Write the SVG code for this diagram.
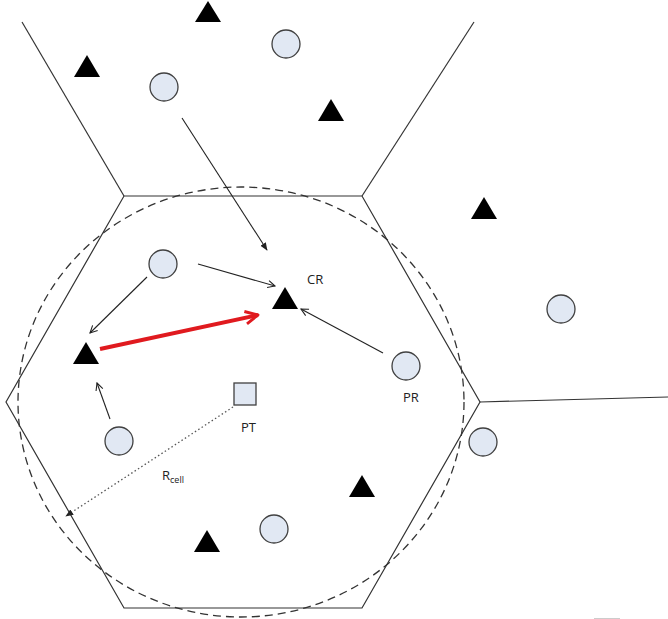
<svg xmlns="http://www.w3.org/2000/svg" width="668" height="619" viewBox="0 0 668 619">
<style>
.edge{fill:none;stroke:#333;stroke-width:1.2}
.ue{fill:#e1e8f3;stroke:#404040;stroke-width:1.3}
.relay{fill:#000}
.conn{fill:none;stroke:#222;stroke-width:1.1}
.lbl{font-family:"Open Sans","Liberation Sans",sans-serif;font-size:13px;fill:#222}
</style>
<defs>
<marker id="v" viewBox="0 0 10 10" refX="9" refY="5" markerWidth="9" markerHeight="9" markerUnits="userSpaceOnUse" orient="auto">
<path d="M1,1 L9,5 L1,9" fill="none" stroke="#222" stroke-width="1.2"/>
</marker>
<marker id="f" viewBox="0 0 10 10" refX="9" refY="5" markerWidth="8" markerHeight="8" markerUnits="userSpaceOnUse" orient="auto">
<path d="M0,1 L10,5 L0,9 Z" fill="#222"/>
</marker>
<marker id="r" viewBox="0 0 10 10" refX="9" refY="5" markerWidth="18" markerHeight="18" markerUnits="userSpaceOnUse" orient="auto">
<path d="M2,1.5 L9,5 L2,8.5" fill="none" stroke="#e01a1f" stroke-width="1.6" stroke-linejoin="round"/>
</marker>
</defs>
<rect width="668" height="619" fill="#fff"/>
<g id="cells">
<polygon class="edge" points="124,196 362,196 480,402 362,608 124,608 6,402"/>
<line class="edge" x1="124" y1="196" x2="22" y2="22"/>
<line class="edge" x1="362" y1="196" x2="474" y2="22"/>
<line class="edge" x1="480" y1="402" x2="668" y2="397"/>
<ellipse cx="241" cy="402" rx="223" ry="215" fill="none" stroke="#333" stroke-width="1.3" stroke-dasharray="8 5"/>
<line x1="594" y1="618.5" x2="620" y2="618.5" stroke="#ccc" stroke-width="1"/>
</g>
<g id="connectors">
<line class="conn" x1="182" y1="118" x2="267" y2="250" marker-end="url(#f)"/>
<line class="conn" x1="198" y1="264" x2="275" y2="286" marker-end="url(#v)"/>
<line class="conn" x1="147" y1="277" x2="90" y2="333" marker-end="url(#v)"/>
<line class="conn" x1="383" y1="353" x2="301" y2="309" marker-end="url(#v)"/>
<line class="conn" x1="110" y1="419" x2="97" y2="383" marker-end="url(#v)"/>
<line x1="100" y1="349" x2="258" y2="315" stroke="#e01a1f" stroke-width="4" marker-end="url(#r)"/>
<line x1="233" y1="407" x2="66" y2="516" stroke="#555" stroke-width="1.3" stroke-dasharray="1.5 2.5" marker-end="url(#f)"/>
</g>
<g id="ue1"><circle class="ue" cx="286" cy="44" r="14"/></g>
<g id="ue2"><circle class="ue" cx="164" cy="87" r="14"/></g>
<g id="ue3"><circle class="ue" cx="163" cy="264" r="14"/></g>
<g id="pr"><circle class="ue" cx="406" cy="366" r="14"/><text class="lbl" x="403" y="402">PR</text></g>
<g id="ue5"><circle class="ue" cx="561" cy="309" r="14"/></g>
<g id="ue6"><circle class="ue" cx="483" cy="442" r="14"/></g>
<g id="ue7"><circle class="ue" cx="119" cy="441" r="14"/></g>
<g id="ue8"><circle class="ue" cx="274" cy="529" r="14"/></g>
<g id="pt"><rect class="ue" x="234" y="383" width="22" height="22"/><text class="lbl" x="241" y="432">PT</text></g>
<g id="rcell"><text class="lbl" x="162" y="480">R<tspan font-size="9px" dy="3">cell</tspan></text></g>
<g id="t1"><polygon class="relay" points="208,1 221,22 195,22"/></g>
<g id="t2"><polygon class="relay" points="87,55 100,77 74,77"/></g>
<g id="t3"><polygon class="relay" points="331,99 344,121 318,121"/></g>
<g id="t4"><polygon class="relay" points="484,197 497,219 471,219"/></g>
<g id="cr"><polygon class="relay" points="285,287 298,309 272,309"/><text class="lbl" x="307" y="284">CR</text></g>
<g id="t6"><polygon class="relay" points="86,342 99,364 73,364"/></g>
<g id="t7"><polygon class="relay" points="362,475 375,497 349,497"/></g>
<g id="t8"><polygon class="relay" points="207,530 220,552 194,552"/></g>
</svg>
